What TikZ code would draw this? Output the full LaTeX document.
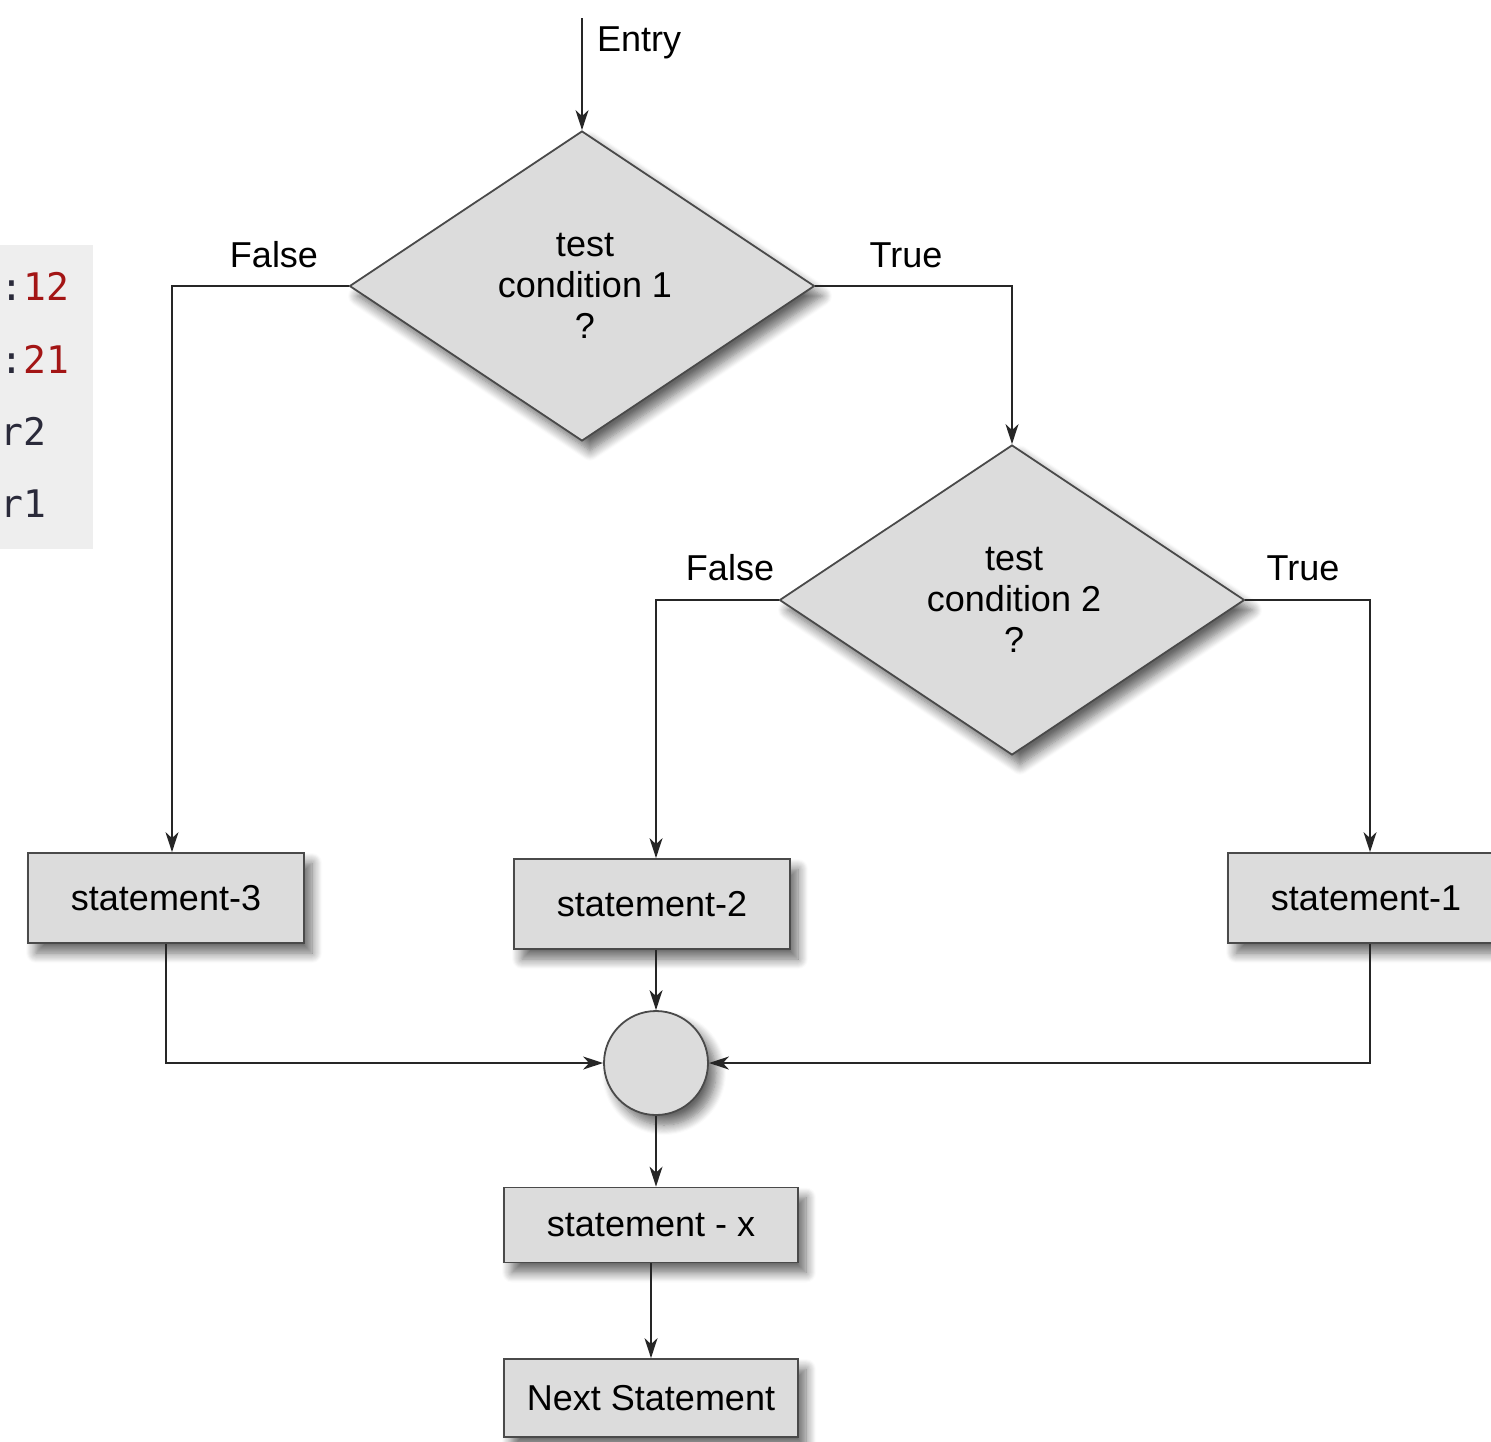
\documentclass[tikz,border=0pt]{standalone}
\usepackage{fontspec}
\setmainfont{Liberation Sans}
\newfontfamily\codefont{DejaVu Sans Mono}
\usetikzlibrary{shapes.geometric,arrows.meta,shadows.blur}
\definecolor{boxfill}{HTML}{DCDCDC}
\definecolor{boxline}{HTML}{4A4A4A}
\definecolor{codebg}{HTML}{EEEEEE}
\definecolor{codered}{HTML}{A31515}
\definecolor{codedark}{HTML}{2A2A3A}
\tikzset{
  shad/.style={blur shadow={shadow xshift=4pt,shadow yshift=-5pt,shadow blur radius=5pt,shadow blur steps=10,shadow opacity=60}},
  stmt/.style={draw=boxline,fill=boxfill,line width=0.9pt,rectangle,minimum width=138pt,minimum height=45pt,inner sep=0pt,shad,font=\fontsize{18}{20.5}\selectfont},
  dec/.style={draw=boxline,fill=boxfill,line width=0.9pt,diamond,minimum width=232.5pt,minimum height=155pt,inner sep=0pt,align=center,shad,font=\fontsize{18}{20.5}\selectfont},
  junc/.style={draw=boxline,fill=boxfill,line width=0.9pt,circle,minimum size=52pt,inner sep=0pt,shad},
  lbl/.style={font=\fontsize{18}{20.5}\selectfont,inner sep=0pt},
  arr/.style={draw=black!85,line width=0.8pt,-{Stealth[length=10pt,width=6.5pt,inset=3pt]}},
  code/.style={font=\codefont\fontsize{19}{22}\selectfont,anchor=base west,inner sep=0pt}
}
\begin{document}
\begin{tikzpicture}[x=0.5pt,y=-0.5pt]
\useasboundingbox (0,0) rectangle (1491,1441);
% code snippet fragment
\fill[codebg] (0,245) rectangle (93,549);
\node[code] (c1) at (0,300) {\textcolor{codedark}{:}\textcolor{codered}{12}};
\node[code] (c2) at (0,373) {\textcolor{codedark}{:}\textcolor{codered}{21}};
\node[code] (c3) at (0,445) {\textcolor{codedark}{r2}};
\node[code] (c4) at (0,517) {\textcolor{codedark}{r1}};
% nodes
\coordinate (entry) at (582,18);
\node[lbl] (entrylbl) at (639,43) {Entry};
\node[dec] (d1) at (582,286) {\hspace*{3pt}test\\\hspace*{3pt}condition 1\\\hspace*{3pt}?};
\node[dec] (d2) at (1012,600) {\hspace*{2pt}test\\\hspace*{2pt}condition 2\\\hspace*{2pt}?};
\node[stmt] (s3) at (166,898) {statement-3};
\node[stmt] (s2) at (652,904) {statement-2};
\node[stmt] (s1) at (1366,898) {statement-1};
\node[junc] (c) at (656,1063) {};
\node[stmt,minimum width=147pt,minimum height=37.5pt] (sx) at (651,1225) {statement - x};
\node[stmt,minimum width=147pt,minimum height=39pt] (ns) at (651,1398) {Next Statement};
% labels
\node[lbl] (f1) at (274,255) {False};
\node[lbl] (t1) at (906,255) {True};
\node[lbl] (f2) at (730,568) {False};
\node[lbl] (t2) at (1303,568) {True};
% connectors
\draw[arr] (entry) -- (d1.north);
\draw[arr] (d1.west) -| ([xshift=3pt]s3.north);
\draw[arr] (d1.east) -| (d2.north);
\draw[arr] (d2.west) -| (s2.north -| c.north);
\draw[arr] (d2.east) -| ([xshift=2pt]s1.north);
\draw[arr] (s2.south -| c.north) -- (c.north);
\draw[arr] (s3.south) |- (c.west);
\draw[arr] ([xshift=2pt]s1.south) |- (c.east);
\draw[arr] (c.south) -- (sx.north -| c.south);
\draw[arr] (sx.south) -- (ns.north);
\end{tikzpicture}
\end{document}
